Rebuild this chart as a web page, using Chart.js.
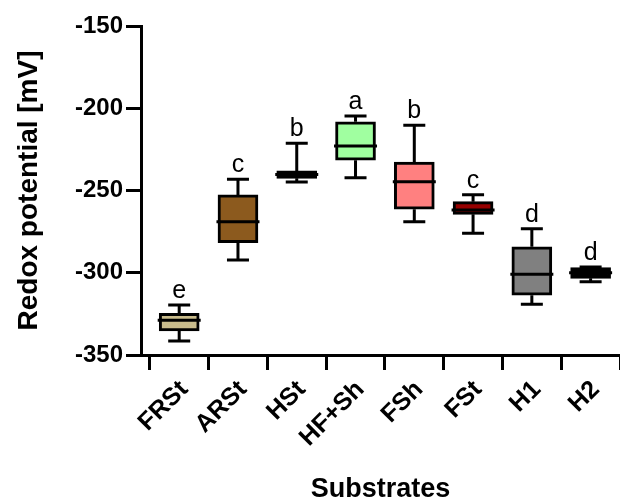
<!DOCTYPE html>
<html><head><meta charset="utf-8">
<script src="https://cdn.jsdelivr.net/npm/chart.js@4"></script>
<style>html,body{margin:0;padding:0;background:#fff}#wrap{width:620px;height:499px;position:relative}</style>
</head><body><div id="wrap"><canvas id="c"></canvas></div>
<script>
const categories = ['FRSt','ARSt','HSt','HF+Sh','FSh','FSt','H1','H2'];
const whiskerMin = [-341.5,-292.2,-244.8,-242.2,-269.0,-276.0,-319.2,-305.4];
const q1 = [-335.4,-281.7,-242.6,-231.6,-261.4,-264.5,-313.7,-303.4];
const median = [-328.9,-269.0,-240.2,-222.9,-244.7,-261.9,-300.9,-300.0];
const q3 = [-324.6,-252.7,-238.1,-208.2,-232.7,-256.8,-284.2,-296.9];
const whiskerMax = [-319.6,-243.2,-221.3,-204.7,-210.4,-252.6,-273.2,-296.5];
const groupLetters = ['e','c','b','a','b','c','d','d'];
const boxColors = ['#C9BC8C','#8C5A1E','#0A3C0A','#A0FFA0','#FF8080','#960000','#808080','#000000'];
const yTicks = [-350,-300,-250,-200,-150];

const FONT = "'Liberation Sans', Arial, sans-serif";
const boxData = categories.map((c,i)=>({x:i+1, y:[q1[i], q3[i]]}));

const boxPlugin = {
  id:'boxPlugin',
  beforeDatasetsDraw(chart){
    const {ctx, scales:{x,y}} = chart;
    ctx.save();
    ctx.strokeStyle='#000'; ctx.lineWidth=3; ctx.lineCap='butt';
    categories.forEach((c,i)=>{
      const px = x.getPixelForValue(i+1);
      ctx.beginPath();
      ctx.moveTo(px, y.getPixelForValue(whiskerMax[i]));
      ctx.lineTo(px, y.getPixelForValue(q3[i]));
      ctx.moveTo(px, y.getPixelForValue(q1[i]));
      ctx.lineTo(px, y.getPixelForValue(whiskerMin[i]));
      ctx.stroke();
    });
    ctx.restore();
  },
  afterDatasetsDraw(chart){
    const {ctx, scales:{x,y}} = chart;
    ctx.save();
    ctx.strokeStyle='#000'; ctx.lineWidth=3; ctx.lineCap='butt';
    categories.forEach((c,i)=>{
      const px = x.getPixelForValue(i+1);
      const capW = 22, medW = 43;
      ctx.beginPath();
      let yy = y.getPixelForValue(whiskerMax[i]);
      ctx.moveTo(px-capW/2, yy); ctx.lineTo(px+capW/2, yy);
      yy = y.getPixelForValue(whiskerMin[i]);
      ctx.moveTo(px-capW/2, yy); ctx.lineTo(px+capW/2, yy);
      yy = y.getPixelForValue(median[i]);
      ctx.moveTo(px-medW/2, yy); ctx.lineTo(px+medW/2, yy);
      ctx.stroke();
      ctx.fillStyle='#000';
      ctx.font = "25px " + FONT;
      ctx.textAlign='center'; ctx.textBaseline='alphabetic';
      ctx.fillText(groupLetters[i], px, y.getPixelForValue(whiskerMax[i]) - 7);
    });
    ctx.restore();
  }
};

new Chart(document.getElementById('c'), {
  type:'bar',
  data:{datasets:[{data: boxData, backgroundColor: boxColors, borderColor:'#000', borderWidth:3, borderSkipped:false, barThickness:40}]},
  options:{
    responsive:true, maintainAspectRatio:false, animation:false,
    layout:{padding:{top:26,right:0,bottom:0,left:0}},
    plugins:{legend:{display:false}, tooltip:{enabled:false}},
    scales:{
      x:{type:'linear', min:0.35, max:8.5, offset:false,
        afterBuildTicks: ax => { ax.ticks = categories.map((c,i)=>({value:i+1})); },
        ticks:{ callback:(v)=>categories[Math.round(v)-1] ?? '', minRotation:45, maxRotation:45, autoSkip:false,
          font:{family:FONT, size:25, weight:'bold'}, color:'#000', padding:5, labelOffset:5 },
        grid:{display:true, drawOnChartArea:false, drawTicks:true, tickLength:15, tickWidth:3, tickColor:'#000'},
        border:{display:true, color:'#000', width:3},
        title:{display:true, text:'Substrates', font:{family:FONT, size:27, weight:'bold'}, color:'#000', padding:{top:0,bottom:-7}},
        afterFit: s=>{ s.height = 144; }
      },
      y:{min:-350, max:-150,
        afterBuildTicks: ax => { ax.ticks = yTicks.map(v=>({value:v})); },
        ticks:{font:{family:FONT, size:24, weight:'bold'}, color:'#000', padding:3},
        grid:{display:true, drawOnChartArea:false, drawTicks:true, tickLength:15, tickWidth:3, tickColor:'#000'},
        border:{display:true, color:'#000', width:3},
        title:{display:true, text:'Redox potential [mV]', font:{family:FONT, size:28, weight:'bold'}, color:'#000', padding:{top:12,bottom:0}},
        afterFit: s=>{ s.width = 141; }
      }
    }
  },
  plugins:[boxPlugin]
});
</script>
</body></html>
